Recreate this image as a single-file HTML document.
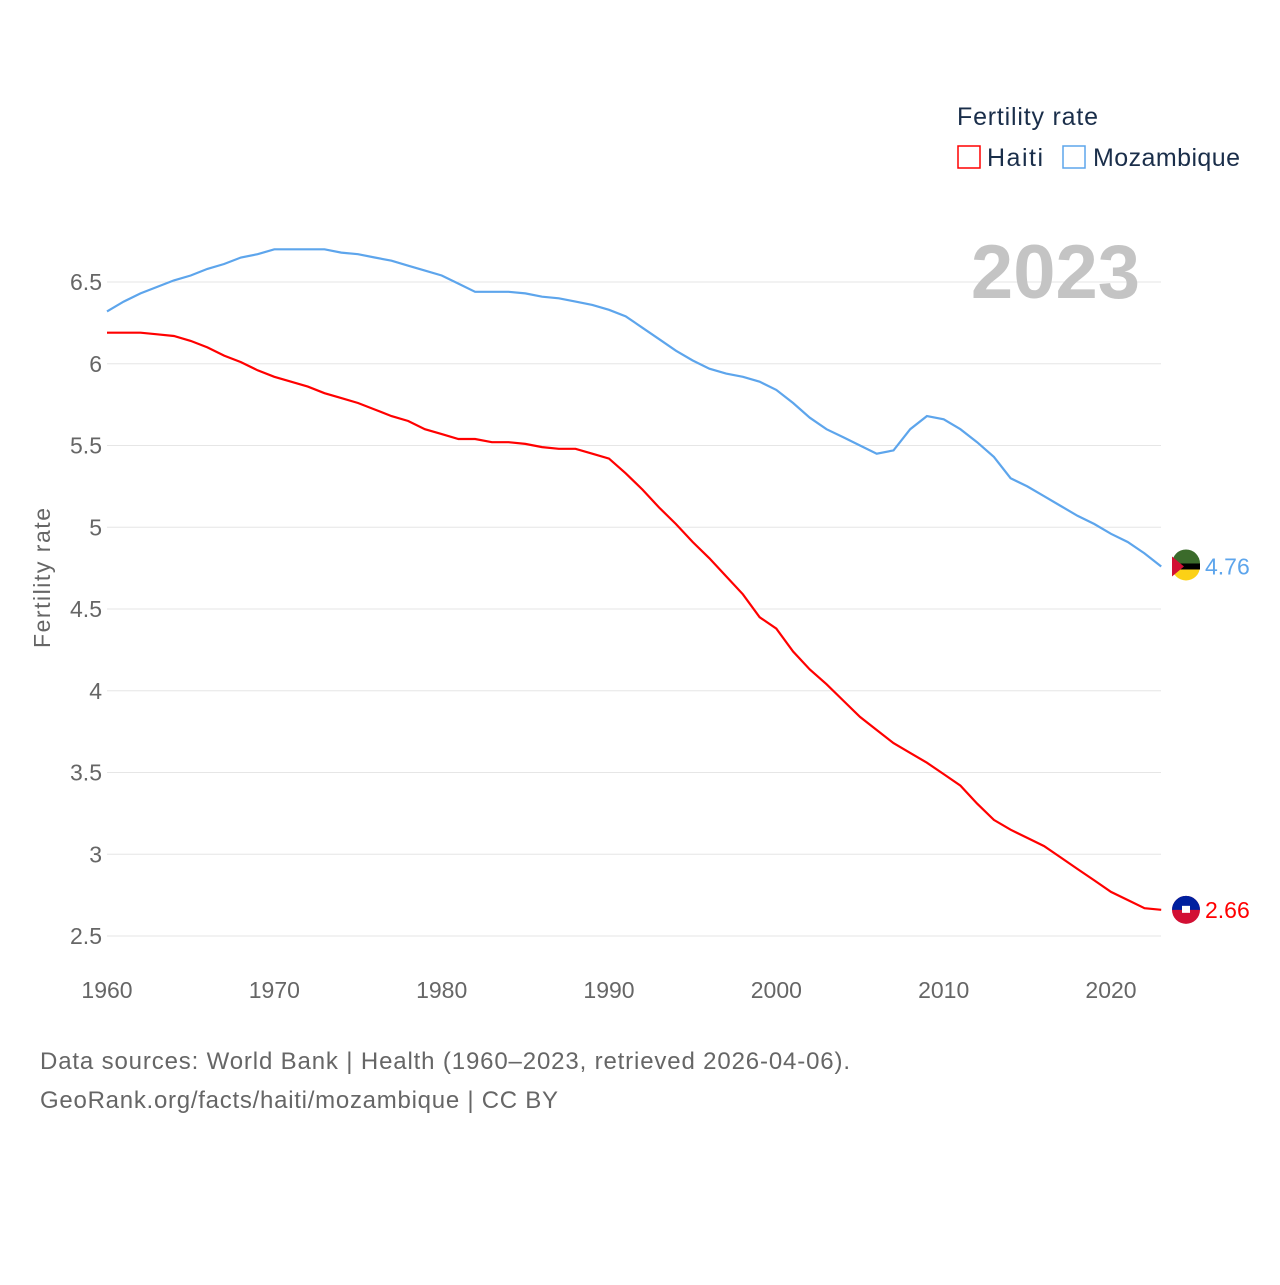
<!DOCTYPE html>
<html><head><meta charset="utf-8"><style>
body{margin:0;background:#fff}
svg text{font-family:"Liberation Sans",sans-serif}
</style></head><body>
<svg width="1280" height="1280" viewBox="0 0 1280 1280" xmlns="http://www.w3.org/2000/svg">
<g id="grid"></g>
<g id="yt"></g>
<g id="xt"></g>
<text x="50" y="578" transform="rotate(-90 50 578)" text-anchor="middle" font-size="23" fill="#666" textLength="140">Fertility rate</text>
<text x="1140" y="298" text-anchor="end" font-size="76" font-weight="bold" fill="#c4c4c4">2023</text>
<g>
<text x="957" y="125" font-size="25" fill="#1a2e4a" textLength="141">Fertility rate</text>
<g><rect x="958" y="146" width="22" height="22" fill="none" stroke="#ff0000" stroke-width="1.5"/><text x="987" y="166" font-size="25" fill="#1a2e4a" textLength="56">Haiti</text></g>
<g><rect x="1063" y="146" width="22" height="22" fill="none" stroke="#5da5ec" stroke-width="1.5"/><text x="1093" y="166" font-size="25" fill="#1a2e4a" textLength="147">Mozambique</text></g>
</g>
<g id="series"></g>
<text x="40" y="1069" font-size="24" fill="#666" textLength="810">Data sources: World Bank | Health (1960–2023, retrieved 2026-04-06).</text>
<text x="40" y="1108" font-size="24" fill="#666" textLength="518">GeoRank.org/facts/haiti/mozambique | CC BY</text>
</svg>
<script>
const years=[];for(let y=1960;y<=2023;y++)years.push(y);
const haiti=[6.19,6.19,6.19,6.18,6.17,6.14,6.10,6.05,6.01,5.96,5.92,5.89,5.86,5.82,5.79,5.76,5.72,5.68,5.65,5.60,5.57,5.54,5.54,5.52,5.52,5.51,5.49,5.48,5.48,5.45,5.42,5.33,5.23,5.12,5.02,4.91,4.81,4.70,4.59,4.45,4.38,4.24,4.13,4.04,3.94,3.84,3.76,3.68,3.62,3.56,3.49,3.42,3.31,3.21,3.15,3.10,3.05,2.98,2.91,2.84,2.77,2.72,2.67,2.66];
const mozambique=[6.32,6.38,6.43,6.47,6.51,6.54,6.58,6.61,6.65,6.67,6.70,6.70,6.70,6.70,6.68,6.67,6.65,6.63,6.60,6.57,6.54,6.49,6.44,6.44,6.44,6.43,6.41,6.40,6.38,6.36,6.33,6.29,6.22,6.15,6.08,6.02,5.97,5.94,5.92,5.89,5.84,5.76,5.67,5.60,5.55,5.50,5.45,5.47,5.60,5.68,5.66,5.60,5.52,5.43,5.30,5.25,5.19,5.13,5.07,5.02,4.96,4.91,4.84,4.76];
const yTicks=[2.5,3,3.5,4,4.5,5,5.5,6,6.5];
const xTicks=[1960,1970,1980,1990,2000,2010,2020];
const NS="http://www.w3.org/2000/svg";
const X=y=>107+(y-1960)*(1004/60);
const Y=v=>936-(v-2.5)*163.5;
function mk(t,a,p){const e=document.createElementNS(NS,t);for(const k in a)e.setAttribute(k,a[k]);p.appendChild(e);return e;}
const grid=document.getElementById('grid'),yt=document.getElementById('yt'),xt=document.getElementById('xt'),ser=document.getElementById('series');
yTicks.forEach(v=>{
const l=mk('line',{x1:107,x2:1161,y1:Y(v),y2:Y(v),stroke:'#e6e6e6','stroke-width':1},grid);


const t=mk('text',{x:102,y:Y(v)+8,'text-anchor':'end','font-size':23,fill:'#666'},yt);
t.textContent=String(v);


});
xTicks.forEach(v=>{
const t=mk('text',{x:X(v),y:998,'text-anchor':'middle','font-size':23,fill:'#666'},xt);
t.textContent=String(v);


});
function line(data,color,name,label,flag){
const d=data.map((v,i)=>(i?'L':'M')+X(years[i]).toFixed(1)+','+Y(v).toFixed(1)).join('');
const p=mk('path',{d:d,fill:'none',stroke:color,'stroke-width':2.2},ser);


const last=data[data.length-1],cy=Y(last);
const g=mk('g',{},ser);


flag(g,1186,cy);
const t=mk('text',{x:1205,y:cy+8,'font-size':23,fill:color},ser);
t.textContent=label;


}
line(mozambique,'#5da5ec','mozambique','4.76',(g,cx,cy)=>{
mk('circle',{cx:cx,cy:cy,r:14,fill:'#fcd116'},g);
mk('path',{d:`M${cx-14},${cy-3}A14,14 0 0 1 ${cx+14},${cy-3}Z`,fill:'#3b6b2b'},g);
mk('rect',{x:cx-13,y:cy-3,width:27,height:6,fill:'#000'},g);
mk('path',{d:`M${cx-14},${cy-10}L${cx-2},${cy}L${cx-14},${cy+10}Z`,fill:'#d21034'},g);
});
line(haiti,'#ff0000','haiti','2.66',(g,cx,cy)=>{
mk('circle',{cx:cx,cy:cy,r:14,fill:'#d21034'},g);
mk('path',{d:`M${cx-14},${cy}A14,14 0 0 1 ${cx+14},${cy}Z`,fill:'#00209f'},g);
mk('rect',{x:cx-4,y:cy-4,width:8,height:7,fill:'#fff'},g);
});
</script>
</body></html>
